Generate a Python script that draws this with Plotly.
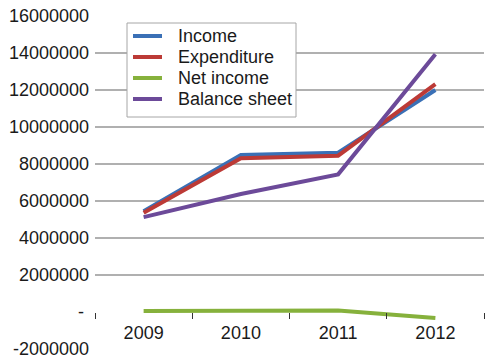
import plotly.graph_objects as go

years = ["2009", "2010", "2011", "2012"]
income = [5450000, 8490000, 8610000, 12000000]
expenditure = [5370000, 8310000, 8450000, 12320000]
net_income = [50000, 80000, 80000, -320000]
balance_sheet = [5130000, 6380000, 7440000, 13930000]

series = [
    ("Income", income, "#3A70B6"),
    ("Expenditure", expenditure, "#BC3A36"),
    ("Net income", net_income, "#86B13C"),
    ("Balance sheet", balance_sheet, "#6C4A99"),
]

y_ticks = [-2000000, 0, 2000000, 4000000, 6000000, 8000000,
           10000000, 12000000, 14000000, 16000000]
y_labels = ["-2000000", "-\u00a0", "2000000", "4000000", "6000000", "8000000",
            "10000000", "12000000", "14000000", "16000000"]
grid_vals = [v for v in y_ticks if v > 0]

W, H = 485, 359
M = dict(l=95, r=1, t=16, b=10)
font = dict(family="Liberation Sans, Arial, sans-serif", size=18, color="#1a1a1a")


def px_x(p):
    return (p - M["l"]) / (W - M["l"] - M["r"])


def px_y(p):
    return (H - M["b"] - p) / (H - M["t"] - M["b"])


fig = go.Figure()
for name, vals, color in series:
    fig.add_trace(go.Scatter(x=years, y=vals, name=name, mode="lines",
                             line=dict(color=color, width=4), showlegend=False))

# invisible trace on a second axis to carry the horizontal gridlines
fig.add_trace(go.Scatter(x=years, y=[None] * 4, yaxis="y2", showlegend=False,
                         hoverinfo="skip"))

# compact boxed legend
shapes = [dict(type="rect", xref="paper", yref="paper", layer="above",
               x0=px_x(127), x1=px_x(296), y0=px_y(117), y1=px_y(23),
               fillcolor="white", line=dict(color="#A6A6A6", width=1))]
annotations = []
row0, row_step = 36, 21
for i, (name, _, color) in enumerate(series):
    yy = px_y(row0 + i * row_step)
    shapes.append(dict(type="line", xref="paper", yref="paper", layer="above",
                       x0=px_x(133), x1=px_x(162), y0=yy, y1=yy,
                       line=dict(color=color, width=4)))
    annotations.append(dict(text=name, xref="paper", yref="paper",
                            x=px_x(176), y=yy, xanchor="left", yanchor="middle",
                            showarrow=False, font=font))

y_range = [y_ticks[0], y_ticks[-1]]
zero_frac = (0 - y_range[0]) / (y_range[1] - y_range[0])

fig.update_layout(
    width=W, height=H,
    margin=M,
    paper_bgcolor="white", plot_bgcolor="white",
    font=font,
    showlegend=False,
    shapes=shapes,
    annotations=annotations,
    xaxis=dict(type="category", range=[-0.5, 3.5], anchor="free",
               position=zero_frac, showline=False, showgrid=False,
               ticks="outside", tickson="boundaries", ticklen=6,
               tickcolor="#333333", tickwidth=1, tickfont=font,
               ticklabelstandoff=8),
    yaxis=dict(range=y_range, tickvals=y_ticks, ticktext=y_labels,
               showgrid=False, zeroline=False, showline=False,
               ticks="", ticklabelstandoff=5, tickfont=font,
               ticklabeloverflow="allow"),
    yaxis2=dict(range=y_range, overlaying="y", tickvals=grid_vals,
                showticklabels=False, showgrid=True, gridcolor="#B0B0B0",
                gridwidth=1.5, zeroline=False, showline=False),
)

fig.write_html("out.html")
